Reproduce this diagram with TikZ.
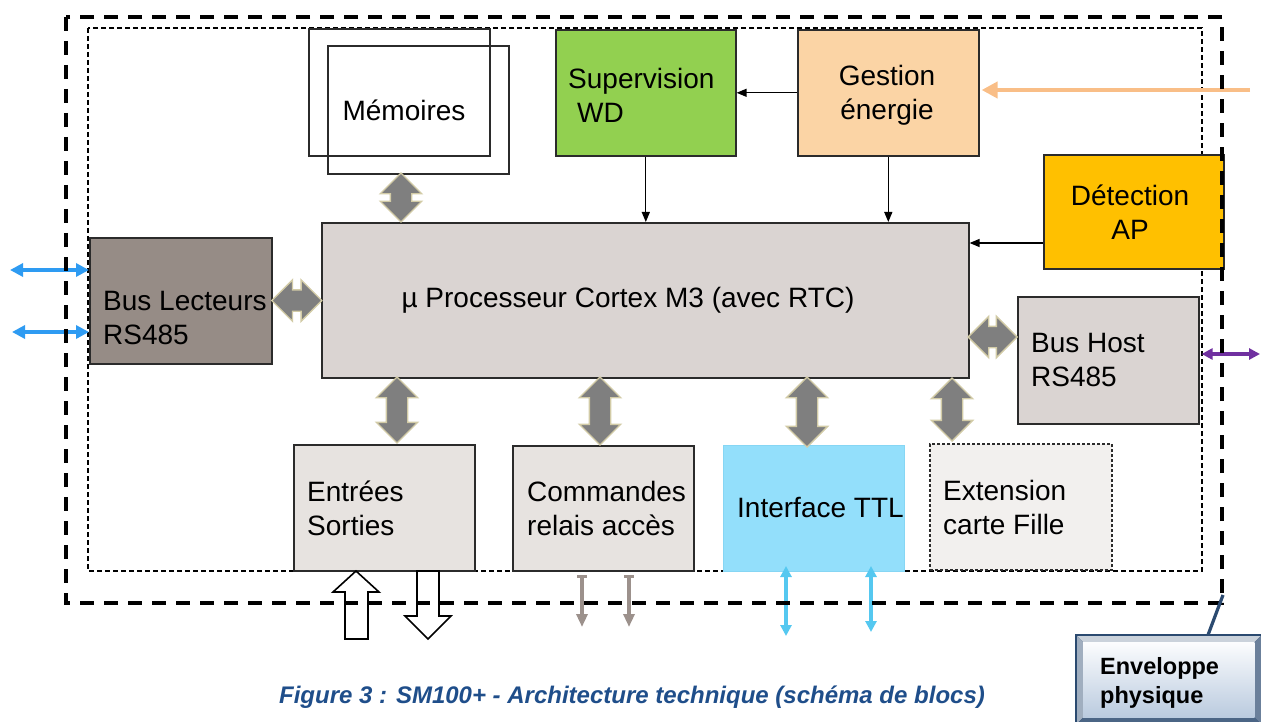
\documentclass[tikz,border=0pt]{standalone}
\usepackage{fontspec}
\setmainfont{Liberation Sans}
\usetikzlibrary{arrows.meta,shapes.arrows,calc}

\definecolor{boxline}{HTML}{2B2B2B}
\definecolor{cpugray}{HTML}{DAD4D2}
\definecolor{busbrown}{HTML}{968C86}
\definecolor{iogray}{HTML}{E7E3E0}
\definecolor{extgray}{HTML}{F2F0EE}
\definecolor{ttlcyan}{HTML}{93DFFB}
\definecolor{ttlrim}{HTML}{86D6F4}
\definecolor{wdgreen}{HTML}{92D050}
\definecolor{pwrpeach}{HTML}{FBD4A5}
\definecolor{apamber}{HTML}{FFC000}
\definecolor{fatgray}{HTML}{7F7F7F}
\definecolor{fatrim}{HTML}{D2CBA6}
\definecolor{pwrorange}{HTML}{F9BE87}
\definecolor{rdblue}{HTML}{2E9BF2}
\definecolor{hostpurple}{HTML}{7030A0}
\definecolor{relbrown}{HTML}{9C918C}
\definecolor{ttlarrow}{HTML}{55C8F0}
\definecolor{capblue}{HTML}{1F4E8A}
\definecolor{envline}{HTML}{2B4A70}
\definecolor{envface}{HTML}{D3E1F2}

\begin{document}
\begin{tikzpicture}[x=1pt,y=-1pt,
  blk/.style={rectangle, draw=boxline, line width=1.6, inner sep=0, anchor=north west},
  lbl/.style={font=\fontsize{28}{34}\selectfont, inner sep=0, align=left, anchor=west},
  clbl/.style={lbl, align=center, anchor=center},
  thinarr/.style={draw=black, line width=1.3, -{Triangle[length=10,width=8]}},
  bigtips/.style={{Triangle[length=13,width=13]}-{Triangle[length=13,width=13]}},
  smalltips/.style={{Triangle[length=11,width=11]}-{Triangle[length=11,width=11]}},
  fat/.style={double arrow, fill=fatgray, draw=fatrim, line width=1.4,
    inner xsep=0, inner ysep=10, double arrow head extend=10,
    double arrow tip angle=90, minimum width=40},
  fatv/.style={fat, rotate=90},
  hollow/.style={draw=black, fill=white, line width=1.6, line join=miter},
  innerdash/.style={draw=black, line width=1.2, dash pattern=on 5 off 3},
  outerdash/.style={draw=black, line width=4.2, dash pattern=on 14 off 10},
]
\useasboundingbox (0,0) rectangle (1261,722);

% inner board outline
\draw[innerdash] (88,28) rectangle (1202,571);

% blocks
\node[blk, minimum width=647, minimum height=155, fill=cpugray] (cpu) at (321,222) {};
\node[blk, minimum width=180, minimum height=126, fill=wdgreen] (sup) at (555,29) {};
\node[blk, minimum width=181, minimum height=126, fill=pwrpeach] (ges) at (797,29) {};
\node[blk, minimum width=180, minimum height=114, fill=apamber] (det) at (1043,154) {};
\node[blk, minimum width=182, minimum height=126, fill=busbrown] (bl) at (89,237) {};
\node[blk, minimum width=181, minimum height=127, fill=cpugray] (bh) at (1017,296) {};
\node[blk, minimum width=181, minimum height=126, fill=iogray] (es) at (293,444) {};
\node[blk, minimum width=181, minimum height=125, fill=iogray] (cmd) at (512,445) {};
\node[blk, minimum width=181, minimum height=126, fill=ttlcyan, draw=ttlrim, line width=1] (ttl) at (723,445) {};
\node[blk, minimum width=182, minimum height=126, fill=extgray, line width=1.5, dash pattern=on 3 off 2] (ext) at (929,443) {};

% memory block drawn as two stacked frames
\node[blk, minimum width=181, minimum height=127] (memback) at (308,28) {};
\node[blk, minimum width=181, minimum height=128] (mem) at (327,45) {};

% block labels
\node[clbl] (memt) at (404,110) {Mémoires};
\node[lbl] (supt) at (568,95) {Supervision\\\hspace*{9pt}WD};
\node[clbl] (gest) at (887,95) {Gestion\\énergie};
\node[clbl] (dett) at (1130,212) {Détection\\AP};
\node[clbl] (cput) at (628,300) {µ Processeur Cortex M3 (avec RTC)};
\node[lbl] (blt) at (103,318) {Bus Lecteurs\\RS485};
\node[lbl] (bht) at (1031,360) {Bus Host\\RS485};
\node[lbl] (est) at (307,508) {Entrées\\Sorties};
\node[lbl] (cmdt) at (527,508) {Commandes\\relais accès};
\node[lbl] (ttlt) at (737,508) {Interface TTL};
\node[lbl] (extt) at (943,507) {Extension\\carte Fille};

% control signals
\coordinate (detlvl) at (0,243);
\draw[thinarr] (ges.west) -- (sup.east);
\draw[thinarr] (sup.south) -- (sup.south |- cpu.north);
\draw[thinarr] (ges.south) -- (ges.south |- cpu.north);
\draw[thinarr] (det.west |- detlvl) -- (cpu.east |- detlvl);

% external links
\coordinate (pwrin) at (1250,90);
\draw[draw=pwrorange, line width=4.5, -{Triangle[length=16,width=16]}] (pwrin) -- ($(ges.east |- pwrin)+(2,0)$);
\coordinate (rdA) at (10,270);
\coordinate (rdB) at (12,332);
\draw[draw=rdblue, line width=3.4, bigtips] (rdA) -- (bl.west |- rdA);
\draw[draw=rdblue, line width=3.4, bigtips] (rdB) -- (bl.west |- rdB);
\coordinate (hostout) at (1260,354);
\draw[draw=hostpurple, line width=3.2, smalltips] ($(bh.east |- hostout)+(2,0)$) -- (hostout);
\coordinate (relA) at (582,627);
\coordinate (relB) at (629,627);
\draw[draw=relbrown, line width=3.2, {Bar[width=10]}-{Triangle[length=13,width=11]}] ($(relA |- cmd.south)+(0,3)$) -- (relA);
\draw[draw=relbrown, line width=3.2, {Bar[width=10]}-{Triangle[length=13,width=11]}] ($(relB |- cmd.south)+(0,3)$) -- (relB);
\coordinate (ttlA) at (786,636);
\coordinate (ttlB) at (871,632);
\draw[draw=ttlarrow, line width=3.2, smalltips] ($(ttlA |- ttl.south)+(0,-6)$) -- (ttlA);
\draw[draw=ttlarrow, line width=3.2, smalltips] ($(ttlB |- ttl.south)+(0,-6)$) -- (ttlB);

% bus arrows
\node[fat, minimum height=50] (lnkbl) at ($(bl.east)!0.5!(cpu.west)$) {};
\node[fat, minimum height=49] (lnkbh) at (992.5,337) {};
\node[fatv, minimum height=49] (lnkmem) at (401,197.5) {};
\node[fatv, minimum height=66] (lnkes) at (397,410) {};
\node[fatv, minimum height=68] (lnkcmd) at (600,411) {};
\node[fatv, minimum height=70] (lnkttl) at (807,412) {};
\node[fatv, minimum height=63] (lnkext) at (952,409.5) {};

% digital inputs / outputs
\draw[hollow] (345,639) -- (368,639) -- (368,592) -- (379,592) -- (356,571) -- (333,592) -- (345,592) -- cycle;
\draw[hollow] (417,571) -- (439,571) -- (439,616) -- (451,616) -- (428,639) -- (405,616) -- (417,616) -- cycle;

% enclosure outline
\draw[outerdash] (66,17) rectangle (1222,603);

% enclosure callout
\coordinate (envtip) at (1223,595);
\node[rectangle, draw=envline, fill=envline, line width=1.5, inner sep=0, anchor=north west,
      minimum width=184, minimum height=88] (env) at (1076,635) {};
\fill[envline!25!white] (env.north west) -- (env.north east) -- ($(env.north east)+(-7,7)$) -- ($(env.north west)+(7,7)$) -- cycle;
\fill[envline!45!white] (env.north west) -- ($(env.north west)+(7,7)$) -- ($(env.south west)+(7,-7)$) -- (env.south west) -- cycle;
\fill[envline!70!white] (env.north east) -- (env.south east) -- ($(env.south east)+(-7,-7)$) -- ($(env.north east)+(-7,7)$) -- cycle;
\fill[envline!85!white] (env.south west) -- (env.south east) -- ($(env.south east)+(-7,-7)$) -- ($(env.south west)+(7,-7)$) -- cycle;
\shade[top color=white!92!envface, bottom color=envface!85!envline] ($(env.north west)+(7,7)$) rectangle ($(env.south east)+(-7,-7)$);
\draw[envline, line width=1.8] (env.north west) rectangle (env.south east);
\node[font=\fontsize{23.5}{29}\selectfont\bfseries, inner sep=0, align=left, anchor=west] (envt) at (1100,683) {Enveloppe\\physique};
\draw[envline, line width=3.2] ($(env.north west)+(132,0)$) -- (envtip);

% caption
\node[font=\fontsize{24}{28}\selectfont\bfseries\itshape, text=capblue, inner sep=0] (cap) at (632,697)
  {Figure 3 : SM100+ - Architecture technique (schéma de blocs)};
\end{tikzpicture}
\end{document}
